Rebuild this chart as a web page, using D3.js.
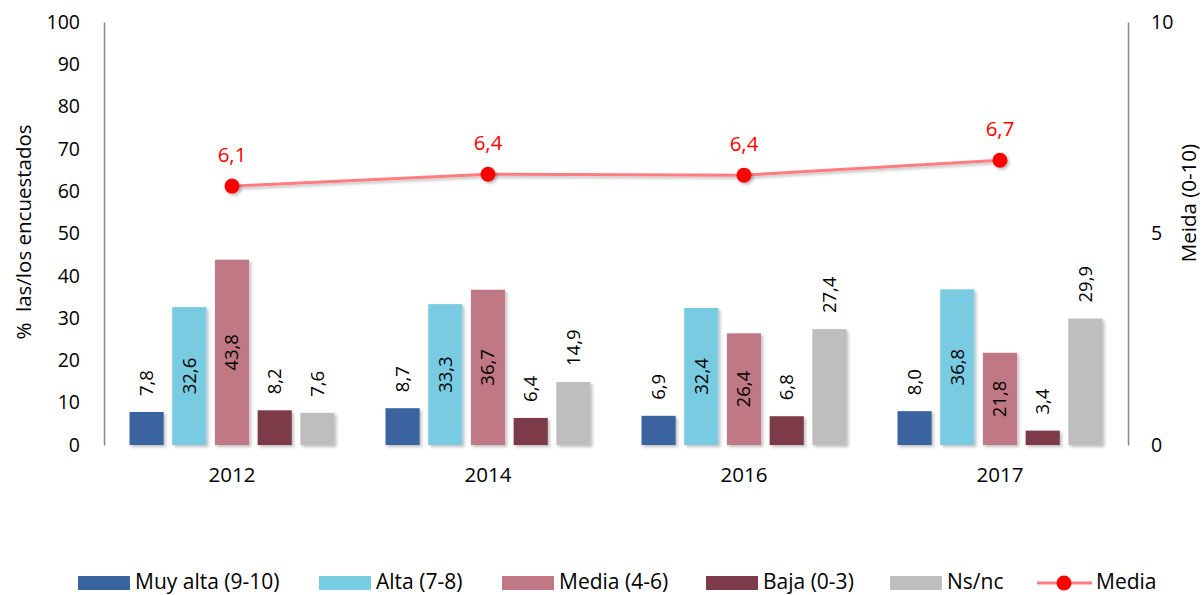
<!DOCTYPE html>
<html><head><meta charset="utf-8">
<script src="https://cdn.jsdelivr.net/npm/d3@7"></script>
<style>body{margin:0;background:#fff}svg{display:block}text{font-family:"Open Sans","Noto Sans",sans-serif}</style>
</head><body><svg id="c" width="1203" height="595"></svg>
<script>
const years = ["2012","2014","2016","2017"];
const seriesNames = ["Muy alta (9-10)","Alta (7-8)","Media (4-6)","Baja (0-3)","Ns/nc"];
const muyAlta = [7.8, 8.7, 6.9, 8.0];
const alta = [32.6, 33.3, 32.4, 36.8];
const mediaCat = [43.8, 36.7, 26.4, 21.8];
const baja = [8.2, 6.4, 6.8, 3.4];
const nsnc = [7.6, 14.9, 27.4, 29.9];
const mediaScore = [6.12, 6.40, 6.38, 6.73];
const leftTicks = [0,10,20,30,40,50,60,70,80,90,100];
const rightTicks = [0,5,10];
const colors = ["#3A64A0","#78CBE0","#C07885","#7D3B4A","#BEBEBE"];
const labelPos = ["out","center","center","out","out"];
const seriesVals = [muyAlta, alta, mediaCat, baja, nsnc];

const svg = d3.select("#c");
const L = 104, R = 1128, T = 22, B = 445;
const fmt = v => d3.format(".1f")(v).replace(".", ",");

const defs = svg.append("defs");
const f = defs.append("filter").attr("id","sh").attr("x","-20%").attr("y","-20%").attr("width","150%").attr("height","150%");
f.append("feDropShadow").attr("dx",2).attr("dy",2).attr("stdDeviation",1.5).attr("flood-color","#000").attr("flood-opacity",0.25);

const x0 = d3.scaleBand().domain(years).range([L, R]).paddingInner(0).paddingOuter(0);
const x1 = d3.scaleBand().domain(d3.range(5)).range([25.5, 256-25.5]).paddingInner(0.2).paddingOuter(0);
const y = d3.scaleLinear().domain([0,100]).range([B, T]);
const y2 = d3.scaleLinear().domain([0,10]).range([B, T]);

// axes
const la = svg.append("g").attr("transform",`translate(${L},0)`).call(d3.axisLeft(y).tickValues(leftTicks).tickSize(0).tickPadding(24));
la.select(".domain").attr("stroke","#888").attr("stroke-width",1.5);
la.selectAll("text").attr("font-size",19.5).attr("fill","#000");
const ra = svg.append("g").attr("transform",`translate(${R},0)`).call(d3.axisRight(y2).tickValues(rightTicks).tickSize(0).tickPadding(23));
ra.select(".domain").attr("stroke","#888").attr("stroke-width",1.5);
ra.selectAll("text").attr("font-size",19.5).attr("fill","#000");
const xa = svg.append("g").attr("transform",`translate(0,${B})`).call(d3.axisBottom(x0).tickSize(0).tickPadding(22));
xa.select(".domain").remove();
xa.selectAll("text").attr("font-size",20.5).attr("fill","#000");

svg.append("text").attr("transform",`translate(24,232) rotate(-90)`).attr("text-anchor","middle").attr("dy","0.35em").attr("font-size",20.5).style("white-space","pre").text("%  las/los encuestados");
svg.append("text").attr("transform",`translate(1189,203) rotate(-90)`).attr("text-anchor","middle").attr("dy","0.35em").attr("font-size",20.5).text("Meida (0-10)");

// bars
years.forEach((yr, i) => {
  const g = svg.append("g").attr("transform",`translate(${x0(yr)},0)`);
  seriesVals.forEach((vals, s) => {
    const v = vals[i];
    g.append("rect").attr("x", x1(s)).attr("y", y(v)).attr("width", x1.bandwidth()).attr("height", B - y(v))
      .attr("fill", colors[s]).attr("filter","url(#sh)");
    const cx = x1(s) + x1.bandwidth()/2;
    let ty, anchor;
    if (labelPos[s] === "center") { ty = (y(v)+B)/2; anchor = "middle"; }
    else { ty = y(v) - 16; anchor = "start"; }
    g.append("text").attr("transform",`translate(${cx},${ty}) rotate(-90)`).attr("text-anchor",anchor).attr("dy","0.35em")
      .attr("font-size",18.5).attr("fill","#000").text(fmt(v));
  });
});

// mean line
const cxs = years.map(yr => x0(yr) + x0.bandwidth()/2);
const line = d3.line().x((d,i)=>cxs[i]).y(d=>y2(d));
svg.append("path").datum(mediaScore).attr("d", line).attr("fill","none").attr("stroke","#FF7C80").attr("stroke-width",3).attr("filter","url(#sh)");
svg.selectAll(".pt").data(mediaScore).enter().append("circle").attr("cx",(d,i)=>cxs[i]).attr("cy",d=>y2(d)).attr("r",7.5).attr("fill","#FF0000").attr("filter","url(#sh)");
svg.selectAll(".ml").data(mediaScore).enter().append("text").attr("x",(d,i)=>cxs[i]).attr("y",d=>y2(d)-24).attr("text-anchor","middle").attr("font-size",20.5).attr("fill","#FF0000").text(d=>fmt(d));

// legend
const legX = [78, 319, 502, 706, 890];
seriesNames.forEach((n, s) => {
  svg.append("rect").attr("x", legX[s]).attr("y", 576).attr("width", 52).attr("height", 14).attr("fill", colors[s]);
  svg.append("text").attr("x", legX[s]+57).attr("y", 589).attr("font-size",21).text(n);
});
svg.append("line").attr("x1",1037).attr("x2",1092).attr("y1",583).attr("y2",583).attr("stroke","#FF7C80").attr("stroke-width",3);
svg.append("circle").attr("cx",1064).attr("cy",583).attr("r",7.5).attr("fill","#FF0000");
svg.append("text").attr("x",1096).attr("y",589).attr("font-size",21).text("Media");
</script></body></html>
